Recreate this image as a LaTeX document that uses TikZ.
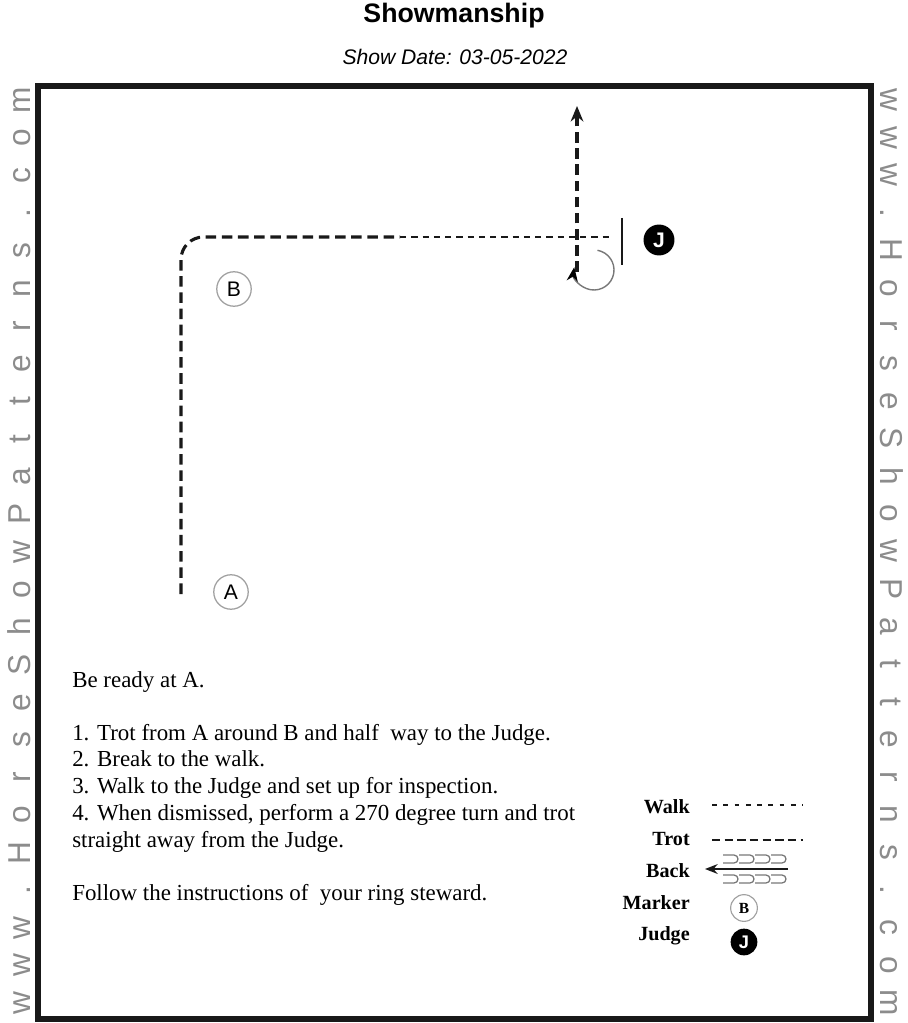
\documentclass[tikz,border=0pt]{standalone}
\usepackage{fontspec}
\setmainfont{Liberation Serif}
\setsansfont{Liberation Sans}
\usetikzlibrary{positioning,arrows.meta}
\definecolor{LineBlack}{RGB}{25,25,25}
\definecolor{MarkGray}{RGB}{160,160,160}
\definecolor{LoopGray}{RGB}{120,120,120}
\definecolor{WaterGray}{RGB}{140,140,140}

\begin{document}
\begin{tikzpicture}[x=0.025cm, y=-0.025cm,
trot/.style={line width=2.2pt, draw=LineBlack, dash pattern=on 7.5pt off 4pt},
walk/.style={line width=1.8pt, draw=LineBlack, dash pattern=on 4.5pt off 3.5pt},
marker/.style={circle, draw=MarkGray, line width=0.9pt, minimum size=24.5pt, inner sep=0pt, font=\sffamily\fontsize{15}{15}\selectfont},
judge/.style={circle, fill=black, minimum size=22pt, inner sep=0pt, text=white, font=\sffamily\bfseries\fontsize{15}{15}\selectfont},
wm/.style={text=WaterGray, anchor=base, inner sep=0pt, font=\sffamily\fontsize{22.5}{22}\selectfont},
instr/.style={anchor=base west, inner sep=0pt, font=\fontsize{16.3}{19}\selectfont},
legend/.style={anchor=base east, inner sep=0pt, font=\bfseries\fontsize{14.3}{16}\selectfont},
tip/.style={-{Stealth[length=11pt, width=9pt]}}
]
\useasboundingbox (0,0) rectangle (907,1023);

% title
\node[font=\sffamily\bfseries\fontsize{19}{22}\selectfont, anchor=base] (title) at (454,23) {Showmanship};
\node[font=\sffamily\itshape\fontsize{15}{18}\selectfont, anchor=base] (date) at (455,65) {Show Date: 03-05-2022};

% arena
\draw[line width=3.6pt, draw=LineBlack] (38,86) rectangle (871,1019);

% watermark
\foreach \ch [count=\i] in {w,w,w,.,H,o,r,s,e,S,h,o,w,P,a,t,t,e,r,n,s,.,c,o,m} {
  \node[wm, rotate=90] (wl\i) at (30.5, {1003-(\i-1)*37.6}) {\ch};
  \node[wm, rotate=-90] (wr\i) at (880, {100+(\i-1)*37.6}) {\ch};
}

% markers
\node[marker] (markB) at (234,289) {B};
\node[marker] (markA) at (231,592) {A};
\node[judge] (judgeJ) at (659,240) {J};

% pattern
\coordinate (startA) at (181,594);
\coordinate (bend) at (181,237);
\coordinate (brk) at (400,237);
\coordinate (stop) at (610,237);
\coordinate (low) at (577,272);
\coordinate (exit) at (577,106);
\coordinate (gateT) at (622,218);
\coordinate (gateB) at (622,265);
\coordinate (spin) at (594,270);

\draw[trot, rounded corners=16pt] (startA) -- (bend) -- (brk);
\draw[walk] (brk) -- (stop);
\draw[trot, tip] (low) -- (exit);
\draw[line width=1.8pt, draw=LineBlack] (gateT) -- (gateB);
\draw[LoopGray, line width=1pt, -{Stealth[length=10pt, width=8pt, color=black]}]
  ([shift={(-80:20)}]spin) arc (-80:188:20);

% instructions
\node[instr] (ready) at (72,687) {Be ready at A.};
\node[instr] (s1) at (72,740) {1. Trot from A around B and half\ \ way to the Judge.};
\node[instr] (s2) at (72,766) {2. Break to the walk.};
\node[instr] (s3) at (72,793) {3. Walk to the Judge and set up for inspection.};
\node[instr] (s4) at (72,820) {4. When dismissed, perform a 270 degree turn and trot};
\node[instr] (s4b) at (72,847) {straight away from the Judge.};
\node[instr] (follow) at (72,900) {Follow the instructions of\ \ your ring steward.};

% legend
\node[legend] (lwalk) at (690,813) {Walk};
\node[legend] (ltrot) at (690,845) {Trot};
\node[legend] (lback) at (690,877) {Back};
\node[legend] (lmark) at (690,909) {Marker};
\node[legend] (ljudge) at (690,940) {Judge};

\draw[walk, line width=1.4pt, dash pattern=on 3.5pt off 4.5pt] (712,805) -- (803,805);
\draw[trot, line width=1.5pt, dash pattern=on 6pt off 3pt] (712,840) -- (803,840);
\coordinate (backR) at (788,869);
\coordinate (backL) at (705,869);
\draw[line width=1.1pt, draw=LineBlack, -{Stealth[length=9pt, width=7pt]}] (backR) -- (backL);
\foreach \lx in {723,739,755,771} {
  \draw[LoopGray, line width=0.9pt] (\lx,855) -- (\lx+11,855) arc (-90:90:4) -- (\lx,863);
  \draw[LoopGray, line width=0.9pt] (\lx,875) -- (\lx+11,875) arc (-90:90:4) -- (\lx,883);
}
\node[marker, minimum size=19pt, line width=0.8pt, font=\bfseries\fontsize{11}{11}\selectfont] (legB) at (744,908) {B};
\node[judge, minimum size=19pt, font=\sffamily\bfseries\fontsize{13}{13}\selectfont] (legJ) at (744,942) {J};
\end{tikzpicture}
\end{document}
